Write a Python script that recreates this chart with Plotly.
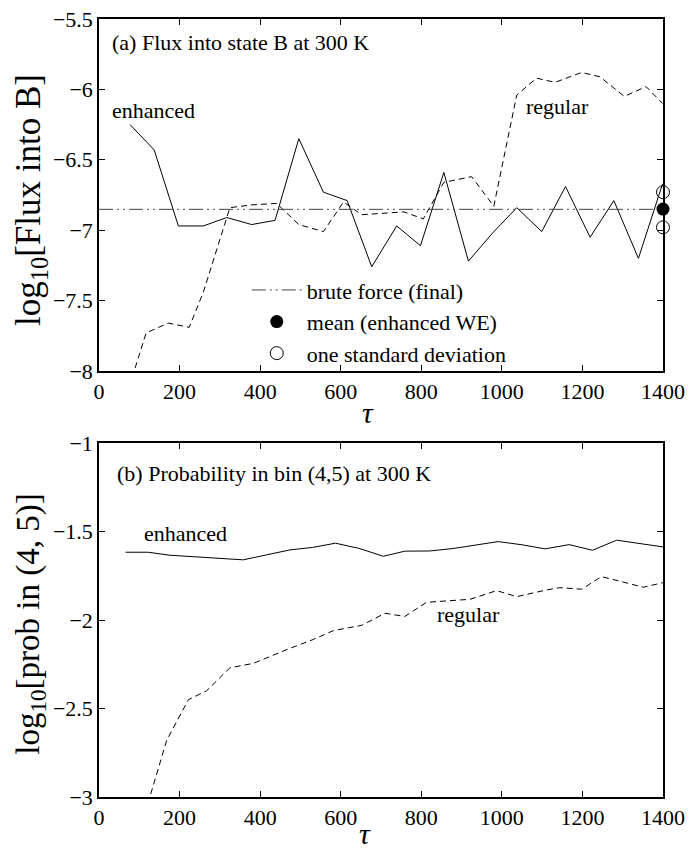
import plotly.graph_objects as go
from plotly.subplots import make_subplots

# ---------------- data ----------------
# Panel (a): flux into state B
flux_enh_tau = [77, 137, 197, 259, 317, 379, 437, 496, 557, 616, 677, 739, 798,
                856, 917, 977, 1037, 1099, 1158, 1219, 1278, 1339, 1399]
flux_enh_val = [-6.25, -6.43, -6.97, -6.97, -6.91, -6.96, -6.93, -6.35, -6.73, -6.79,
                -7.26, -6.97, -7.11, -6.59, -7.22, -7.02, -6.84, -7.01, -6.69, -7.05,
                -6.79, -7.20, -6.67]
flux_reg_tau = [60, 117, 172, 224, 259, 325, 380, 441, 496, 557, 607, 652, 757,
                805, 856, 925, 980, 1037, 1086, 1132, 1198, 1243, 1304, 1358, 1399]
flux_reg_val = [-8.25, -7.73, -7.66, -7.69, -7.44, -6.84, -6.82, -6.81, -6.96, -7.01,
                -6.80, -6.89, -6.87, -6.92, -6.66, -6.62, -6.83, -6.04, -5.92, -5.95,
                -5.88, -5.91, -6.05, -5.98, -6.10]
brute_force = -6.852
we_mean = -6.85
we_std_lo = -6.98
we_std_hi = -6.73
tau_final = 1400

# Panel (b): probability in bin (4,5)
prob_enh_tau = [66, 122, 176, 240, 300, 358, 416, 474, 530, 587, 645, 706, 759,
                821, 879, 937, 991, 1050, 1107, 1167, 1225, 1285, 1342, 1400]
prob_enh_val = [-1.617, -1.617, -1.634, -1.643, -1.650, -1.660, -1.632, -1.604,
                -1.590, -1.566, -1.595, -1.640, -1.611, -1.610, -1.596, -1.575,
                -1.557, -1.575, -1.598, -1.574, -1.606, -1.549, -1.568, -1.587]
prob_reg_tau = [100, 168, 222, 267, 325, 383, 474, 532, 582, 652, 710, 759, 813,
                921, 987, 1037, 1103, 1144, 1198, 1247, 1297, 1351, 1400]
prob_reg_val = [-3.20, -2.68, -2.45, -2.40, -2.27, -2.245, -2.16, -2.11, -2.06,
                -2.03, -1.962, -1.98, -1.90, -1.883, -1.834, -1.868, -1.834, -1.817,
                -1.826, -1.755, -1.783, -1.815, -1.789]

x_ticks = [0, 200, 400, 600, 800, 1000, 1200, 1400]
ya_ticks = [-5.5, -6, -6.5, -7, -7.5, -8]
yb_ticks = [-1, -1.5, -2, -2.5, -3]

FONT = "Liberation Serif, Times New Roman, serif"
FS = 22

fig = make_subplots(rows=2, cols=1, vertical_spacing=0.0)

# panel a
fig.add_trace(go.Scatter(x=flux_enh_tau, y=flux_enh_val, mode="lines",
                         line=dict(color="black", width=1), showlegend=False),
              row=1, col=1)
fig.add_trace(go.Scatter(x=flux_reg_tau, y=flux_reg_val, mode="lines",
                         line=dict(color="black", width=1, dash="6px,4px"),
                         showlegend=False), row=1, col=1)
fig.add_trace(go.Scatter(x=[0, tau_final], y=[brute_force, brute_force], mode="lines",
                         line=dict(color="#444", width=1,
                                   dash="14px,4px,2px,4px,2px,4px"),
                         name="brute force (final)", showlegend=True), row=1, col=1)
fig.add_trace(go.Scatter(x=[tau_final], y=[we_mean], mode="markers",
                         marker=dict(symbol="circle", size=13, color="black"),
                         cliponaxis=False,
                         name="mean (enhanced WE)", showlegend=True), row=1, col=1)
fig.add_trace(go.Scatter(x=[tau_final, tau_final], y=[we_std_hi, we_std_lo],
                         mode="markers",
                         marker=dict(symbol="circle-open", size=13, color="black",
                                     line=dict(width=1)),
                         cliponaxis=False,
                         name="one standard deviation", showlegend=True), row=1, col=1)

# panel b
fig.add_trace(go.Scatter(x=prob_enh_tau, y=prob_enh_val, mode="lines",
                         line=dict(color="black", width=1), showlegend=False),
              row=2, col=1)
fig.add_trace(go.Scatter(x=prob_reg_tau, y=prob_reg_val, mode="lines",
                         line=dict(color="black", width=1, dash="6px,4px"),
                         showlegend=False), row=2, col=1)

axis_common = dict(showline=True, linecolor="black", linewidth=1.5, mirror="ticks",
                   ticks="inside", ticklen=6, tickwidth=1, tickcolor="black",
                   showgrid=False, zeroline=False, automargin=False,
                   tickfont=dict(family=FONT, size=FS, color="black"))

fig.update_xaxes(range=[0, 1400], tickvals=x_ticks, **axis_common)
fig.update_yaxes(**axis_common)
fig.update_yaxes(range=[-8, -5.5], tickvals=ya_ticks, domain=[0.5476, 1.0],
                 row=1, col=1)
fig.update_yaxes(range=[-3, -1], tickvals=yb_ticks, domain=[0.0, 0.455],
                 row=2, col=1)

ann = []
def txt(x, y, s, xref, yref, size=FS, angle=0, xanchor="left", yanchor="middle"):
    ann.append(dict(x=x, y=y, xref=xref, yref=yref, text=s, showarrow=False,
                    xanchor=xanchor, yanchor=yanchor, textangle=angle,
                    font=dict(family=FONT, size=size, color="black")))

# panel titles and series labels (data coordinates)
txt(28, -5.67, "(a) Flux into state B at 300 K", "x", "y")
txt(28, -6.15, "enhanced", "x", "y")
txt(1055, -6.12, "regular", "x", "y")
txt(40, -1.17, "(b) Probability in bin (4,5) at 300 K", "x2", "y2")
txt(107, -1.51, "enhanced", "x2", "y2")
txt(835, -1.97, "regular", "x2", "y2")

# axis titles (paper coordinates)
txt(-0.121, 0.767, "log<sub>10</sub>[Flux into B]", "paper", "paper", size=35,
    angle=-90, xanchor="center")
txt(-0.121, 0.2224, "log<sub>10</sub>[prob in (4, 5)]", "paper", "paper", size=33,
    angle=-90, xanchor="center")
txt(0.477, 0.4936, "<i>τ</i>", "paper", "paper", size=30, xanchor="center")
txt(0.4716, -0.0705, "<i>τ</i>", "paper", "paper", size=30, xanchor="center",
    yanchor="bottom")

fig.update_layout(
    width=691, height=852,
    margin=dict(l=99, r=28, t=19, b=55, autoexpand=False),
    paper_bgcolor="white", plot_bgcolor="white",
    font=dict(family=FONT, size=FS, color="black"),
    annotations=ann,
    legend=dict(x=0.262, y=0.611, xanchor="left", yanchor="middle",
                bgcolor="rgba(0,0,0,0)", borderwidth=0,
                font=dict(family=FONT, size=FS, color="black"),
                itemwidth=50, tracegroupgap=0),
)

fig.write_html("out.html", config={"displayModeBar": False},
               post_script="document.body.style.margin='0';document.body.style.overflow='hidden';")
